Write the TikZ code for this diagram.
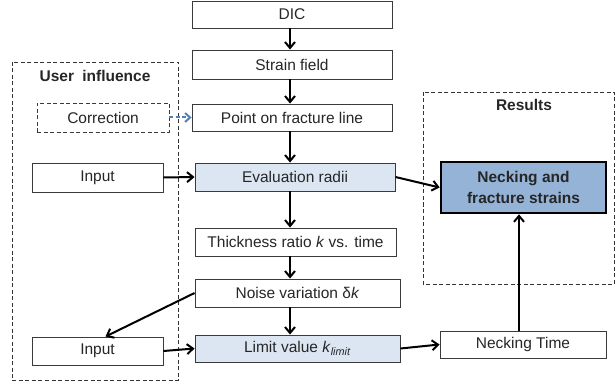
\documentclass[tikz,border=0pt]{standalone}
\usepackage{fontspec}
\setmainfont{Liberation Sans}
\usetikzlibrary{arrows.meta,calc}
\definecolor{lightfill}{HTML}{DCE6F2}
\definecolor{resfill}{HTML}{95B3D7}
\definecolor{corrblue}{HTML}{4F81BD}
\definecolor{edge}{HTML}{3A3A3A}
\begin{document}
\begin{tikzpicture}[x=1pt,y=-1pt,
  every node/.style={font=\fontsize{15.5}{18}\selectfont, text=black!85},
  box/.style={draw=edge, line width=0.9pt, fill=white, minimum height=28pt, inner sep=0pt},
  hbox/.style={box, fill=lightfill},
  group/.style={draw=black!80, line width=0.8pt, dash pattern=on 4pt off 2.5pt},
  arr/.style={line width=2pt, -{Straight Barb[length=6pt,width=10pt,line width=2pt]}},
  title/.style={font=\fontsize{15.5}{18}\selectfont\bfseries}
]
\useasboundingbox (0,0) rectangle (616,385);

% dashed group frames
\draw[group] (12,62) rectangle (178,380);
\draw[group] (423,92) rectangle (614,284);
\node[title] (usertitle) at (95,76) {User\hspace{4pt} influence};
\node[title] (restitle) at (524,105) {Results};

% main chain
\node[box, minimum width=200pt, minimum height=27pt] (dic) at (292,14.5) {DIC};
\node[box, minimum width=200pt, minimum height=29pt] (strain) at (292,64.5) {Strain field};
\node[box, minimum width=200pt, minimum height=27pt] (point) at (292,117.5) {Point on fracture line};
\node[hbox, minimum width=200pt] (eval) at (295,177) {Evaluation radii};
\node[box, minimum width=201pt] (thick) at (295.5,242) {Thickness ratio \textit{k} vs. time};
\node[box, minimum width=205pt] (noise) at (297.5,293) {Noise variation δ\textit{k}};
\node[hbox, minimum width=205pt, minimum height=27pt] (limit) at (297.5,348.5) {Limit value \textit{k}\textsubscript{\textit{limit}}};

% user influence
\node[box, minimum width=132pt, minimum height=29pt, dash pattern=on 4pt off 2.5pt] (corr) at (103,117.5) {Correction};
\node[box, minimum width=131pt, minimum height=29pt] (in1) at (97.5,177.5) {Input};
\node[box, minimum width=131pt] (in2) at (97.5,351) {Input};

% results
\node[draw=black, line width=2.6pt, fill=resfill, minimum width=165pt, minimum height=51pt,
      align=center, font=\fontsize{15.5}{21}\selectfont\bfseries] (strains) at (523.5,187.5)
      {Necking and\\fracture strains};
\node[box, minimum width=166pt, minimum height=27pt] (necktime) at (523,344.5) {Necking Time};

% connectors
\draw[arr] ($(dic.south)+(-2,0)$) -- ($(strain.north)+(-2,0)$);
\draw[arr] ($(strain.south)+(-2,0)$) -- ($(point.north)+(-2,0)$);
\draw[arr] ($(point.south)+(-2,0)$) -- ($(eval.north)+(-5,0)$);
\draw[arr] ($(eval.south)+(-5,0)$) -- ($(thick.north)+(-5.5,0)$);
\draw[arr] ($(thick.south)+(-5.5,0)$) -- ($(noise.north)+(-7.5,0)$);
\draw[arr] ($(noise.south)+(-7.5,0)$) -- ($(limit.north)+(-7.5,0)$);
\draw[line width=2pt, corrblue, dash pattern=on 4pt off 2.5pt,
      -{Straight Barb[length=5pt,width=9pt,line width=2pt]}] (corr.east) -- (point.west);
\draw[arr] (in1.east) -- (eval.west);
\draw[arr] (eval.east) -- (strains.west);
\draw[arr] (noise.west) -- ($(in2.north)+(8,0)$);
\draw[arr] (in2.east) -- (limit.west);
\draw[arr] (limit.east) -- (necktime.west);
\draw[arr] ($(necktime.north)+(-4,0)$) -- ($(strains.south)+(-4.5,0)$);
\end{tikzpicture}
\end{document}
